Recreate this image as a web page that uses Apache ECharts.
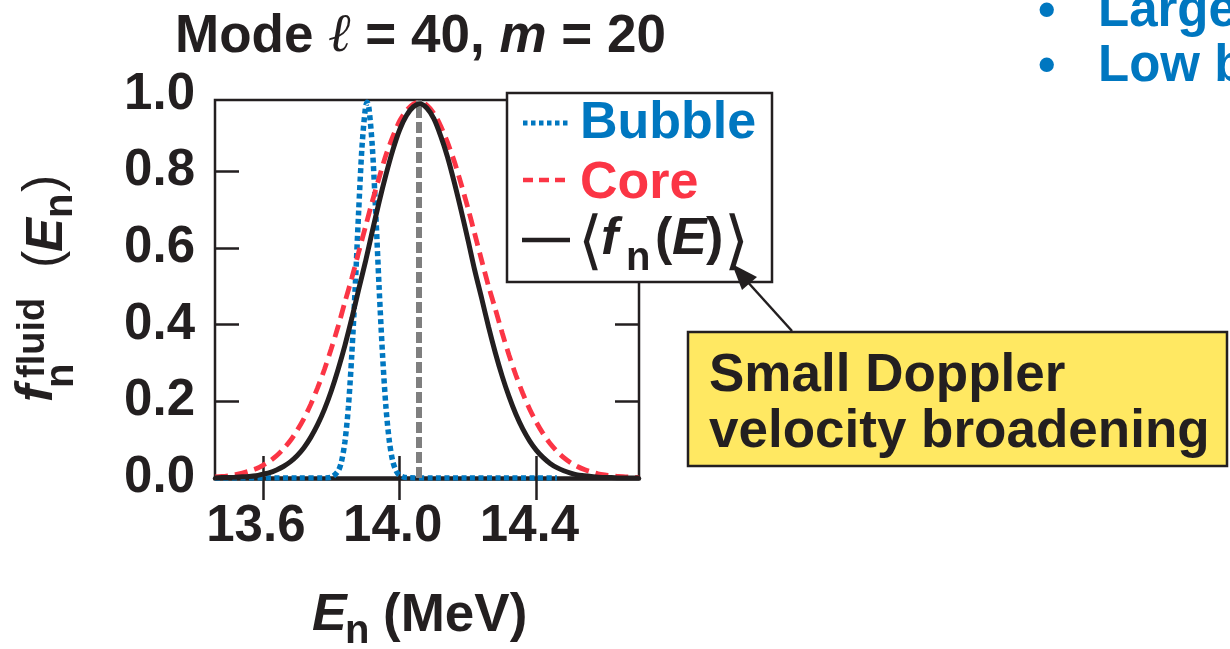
<!DOCTYPE html>
<html><head><meta charset="utf-8">
<script src="https://cdn.jsdelivr.net/npm/echarts@6/dist/echarts.min.js"></script>
<style>html,body{margin:0;padding:0;background:#fff}#c{width:1230px;height:649px}</style>
</head><body><div id="c"></div>
<script>
// ---- data ----
const energies = [13.46,13.48,13.50,13.52,13.54,13.56,13.58,13.60,13.62,13.64,13.66,13.68,13.70,13.72,13.74,13.76,13.78,13.80,13.82,13.84,13.86,13.88,13.90,13.92,13.94,13.96,13.98,14.00,14.02,14.04,14.06,14.08,14.10,14.12,14.14,14.16,14.18,14.20,14.22,14.24,14.26,14.28,14.30,14.32,14.34,14.36,14.38,14.40,14.42,14.44,14.46,14.48,14.50,14.52,14.54,14.56,14.58,14.60,14.62,14.64,14.66,14.68,14.70];
const coreValues = [0.003,0.004,0.006,0.009,0.013,0.018,0.024,0.033,0.044,0.058,0.076,0.097,0.124,0.155,0.192,0.235,0.283,0.337,0.395,0.459,0.521,0.588,0.655,0.721,0.783,0.842,0.890,0.931,0.958,0.975,0.980,0.972,0.951,0.918,0.875,0.825,0.766,0.703,0.635,0.567,0.500,0.440,0.378,0.320,0.268,0.221,0.180,0.145,0.115,0.090,0.070,0.053,0.040,0.030,0.022,0.016,0.011,0.008,0.006,0.004,0.003,0.002,0.001];
const meanValues = [0.000,0.001,0.001,0.002,0.003,0.004,0.006,0.010,0.014,0.021,0.030,0.042,0.058,0.079,0.106,0.139,0.179,0.227,0.283,0.346,0.416,0.491,0.564,0.643,0.720,0.791,0.855,0.908,0.945,0.968,0.975,0.964,0.937,0.892,0.837,0.770,0.697,0.620,0.540,0.468,0.394,0.326,0.265,0.212,0.166,0.128,0.097,0.072,0.053,0.038,0.027,0.019,0.013,0.008,0.006,0.004,0.002,0.001,0.001,0.000,0.000,0.000,0.000];
const bubbleEnergies = [13.46,13.60,13.70,13.78,13.80,13.82,13.83,13.84,13.85,13.86,13.87,13.88,13.89,13.90,13.905,13.91,13.92,13.93,13.94,13.95,13.96,13.97,13.98,13.99,14.00,14.02,14.10,14.20,14.30,14.40,14.46];
const bubbleValues = [0,0,0,0,0.002,0.018,0.043,0.095,0.184,0.321,0.496,0.693,0.865,0.966,0.980,0.966,0.865,0.693,0.496,0.321,0.184,0.095,0.043,0.018,0.007,0.001,0,0,0,0,0];
const peakEnergy = 14.057;
const xTicks = [13.6, 14.0, 14.4];
const yLabels = [0, 0.2, 0.4, 0.6, 0.8, 1.0];
const yTicks = [0.2, 0.4, 0.6, 0.8];
const seriesNames = ['Bubble', 'Core'];

// ---- styling ----
const FONT = '"Liberation Sans", Arial, Helvetica, sans-serif';
const INK = '#231f20';
const BLUE = '#0077c0';
const RED = '#fb3545';
const GRAY = '#7f7f7f';
const xMin = 13.46, xMax = 14.70;

const chart = echarts.init(document.getElementById('c'), null, {renderer: 'canvas'});

function txt(x, y, text, size, opts) {
  opts = opts || {};
  return {
    type: 'text', x: x, y: y, z: opts.z || 60,
    style: {
      text: text, fontSize: size, fontWeight: opts.weight || 'bold',
      fontStyle: opts.style || 'normal', fontFamily: opts.family || FONT,
      fill: opts.fill || INK, align: opts.align || 'left', verticalAlign: 'middle'
    }
  };
}

const grayStyle = {color: GRAY, width: 6, type: [11, 4]};

const option = {
  animation: false,
  backgroundColor: '#ffffff',
  grid: [
    {left: 215, right: 591, top: 94.5, bottom: 171, show: false, containLabel: false, outerBoundsMode: 'none'},
    {left: 215, right: 591, top: 100, bottom: 170, show: true, borderColor: INK, borderWidth: 2.5, backgroundColor: 'transparent', containLabel: false, outerBoundsMode: 'none'}
  ],
  xAxis: [
    {
      type: 'value', gridIndex: 0, min: xMin, max: xMax,
      axisLine: {show: true, onZero: false, lineStyle: {color: INK, width: 4.5}},
      axisTick: {show: true, inside: true, length: 22, customValues: xTicks, lineStyle: {color: INK, width: 2.5}},
      axisLabel: {show: true, customValues: xTicks, formatter: v => v.toFixed(1), fontSize: 51, fontWeight: 'bold', fontFamily: FONT, color: INK, margin: 23, padding: [0, 14, 0, 0]},
      splitLine: {show: false}
    },
    {
      type: 'value', gridIndex: 1, position: 'top', min: xMin, max: xMax,
      axisLine: {show: false},
      axisTick: {show: true, inside: true, length: 22, customValues: xTicks, lineStyle: {color: INK, width: 2.5}},
      axisLabel: {show: false}, splitLine: {show: false}
    }
  ],
  yAxis: [
    {
      type: 'value', gridIndex: 0, min: 0, max: 1,
      axisLine: {show: false},
      axisTick: {show: true, inside: true, length: 24, customValues: yTicks, lineStyle: {color: INK, width: 2.5}},
      axisLabel: {show: true, customValues: yLabels, formatter: v => v.toFixed(1), fontSize: 51, fontWeight: 'bold', fontFamily: FONT, color: INK, margin: 20},
      splitLine: {show: false}
    },
    {
      type: 'value', gridIndex: 1, position: 'right', min: -0.0026, max: 0.98566,
      axisLine: {show: false},
      axisTick: {show: true, inside: true, length: 24, customValues: yTicks, lineStyle: {color: INK, width: 2.5}},
      axisLabel: {show: false}, splitLine: {show: false}
    }
  ],
  series: [
    {
      name: seriesNames[0], type: 'line', xAxisIndex: 0, yAxisIndex: 0, z: 3,
      data: bubbleEnergies.map((e, i) => [e, bubbleValues[i]]),
      showSymbol: false, smooth: 0.3, clip: true,
      lineStyle: {color: BLUE, width: 5.5, type: [5, 3.5], cap: 'butt'}
    },
    {
      name: seriesNames[1], type: 'line', xAxisIndex: 0, yAxisIndex: 0, z: 4,
      data: energies.map((e, i) => [e, coreValues[i]]),
      showSymbol: false, smooth: 0.3, clip: true,
      lineStyle: {color: RED, width: 4.8, type: [13, 7], cap: 'butt'}
    },
    {
      name: 'mean', type: 'line', xAxisIndex: 0, yAxisIndex: 0, z: 5,
      data: energies.map((e, i) => [e, meanValues[i]]),
      showSymbol: false, smooth: 0.3, clip: true,
      lineStyle: {color: INK, width: 5}
    },
    {
      name: 'peak', type: 'line', xAxisIndex: 0, yAxisIndex: 0, z: 6,
      data: [], showSymbol: false, silent: true,
      markLine: {
        silent: true, symbol: ['none', 'none'], label: {show: false},
        lineStyle: grayStyle,
        emphasis: {disabled: true},
        data: [[{coord: [peakEnergy, 0], lineStyle: grayStyle}, {coord: [peakEnergy, 0.985]}]]
      }
    }
  ],
  graphic: [
    // title
    {
      type: 'text', x: 175, y: 37, z: 60,
      style: {
        text: '{b|Mode }{l|ℓ}{b| = 40, }{i|m}{b| = 20}',
        align: 'left', verticalAlign: 'middle', fill: INK,
        rich: {
          b: {fontSize: 53, fontWeight: 'bold', fontFamily: FONT, fill: INK},
          l: {fontSize: 54, fontWeight: 'normal', fontStyle: 'italic', fontFamily: '"DejaVu Serif", serif', fill: INK},
          i: {fontSize: 53, fontWeight: 'bold', fontStyle: 'italic', fontFamily: FONT, fill: INK}
        }
      }
    },
    // y axis name (rotated)
    {
      type: 'group', x: 0, y: 402, rotation: Math.PI / 2,
      children: [
        txt(0, 38, 'f', 52, {style: 'italic'}),
        txt(24, 34, 'fluid', 38),
        txt(14, 62, 'n', 40),
        txt(134, 45, '(', 52, {weight: 'normal'}),
        txt(150, 48, 'E', 51, {style: 'italic'}),
        txt(184, 61, 'n', 40),
        txt(210, 45, ')', 52, {weight: 'normal'})
      ]
    },
    // x axis name
    txt(312, 616, 'E', 52, {style: 'italic'}),
    txt(345, 632, 'n', 40),
    txt(383, 616, '(MeV)', 53),
    // legend box
    {type: 'rect', z: 50, shape: {x: 507, y: 93, width: 265, height: 189}, style: {fill: '#ffffff', stroke: INK, lineWidth: 2.5}},
    {type: 'line', z: 55, shape: {x1: 523, y1: 123, x2: 568, y2: 123}, style: {stroke: BLUE, lineWidth: 5, lineDash: [4.5, 3.5]}},
    {type: 'line', z: 55, shape: {x1: 523, y1: 180, x2: 568, y2: 180}, style: {stroke: RED, lineWidth: 4.5, lineDash: [10, 6]}},
    {type: 'line', z: 55, shape: {x1: 522, y1: 240, x2: 570, y2: 240}, style: {stroke: INK, lineWidth: 4.5}},
    txt(580, 124, 'Bubble', 52, {fill: BLUE}),
    txt(580, 184, 'Core', 52, {fill: RED}),
    txt(578, 245, '⟨', 64, {weight: 'normal', family: '"DejaVu Sans", sans-serif'}),
    txt(601, 240, 'f', 52, {style: 'italic'}),
    txt(626, 259, 'n', 40),
    txt(655, 240, '(', 52),
    txt(672, 240, 'E', 52, {style: 'italic'}),
    txt(706, 240, ')', 52),
    txt(724, 245, '⟩', 64, {weight: 'normal', family: '"DejaVu Sans", sans-serif'}),
    // arrow
    {type: 'line', z: 55, shape: {x1: 792, y1: 331, x2: 745, y2: 279}, style: {stroke: INK, lineWidth: 2.5}},
    {type: 'polygon', z: 56, shape: {points: [[732, 264], [757, 277], [742, 290]]}, style: {fill: INK}},
    // annotation box
    {type: 'rect', z: 50, shape: {x: 688, y: 332, width: 539, height: 134}, style: {fill: '#ffe862', stroke: INK, lineWidth: 2.5}},
    txt(709, 376, 'Small Doppler', 53),
    txt(709, 432, 'velocity broadening', 53),
    // clipped slide bullets
    txt(1038, 12, '•', 50, {fill: BLUE}),
    txt(1098, 12, 'Large', 51, {fill: BLUE}),
    txt(1038, 67, '•', 50, {fill: BLUE}),
    txt(1098, 67, 'Low b', 51, {fill: BLUE})
  ]
};
chart.setOption(option);
</script>
</body></html>
